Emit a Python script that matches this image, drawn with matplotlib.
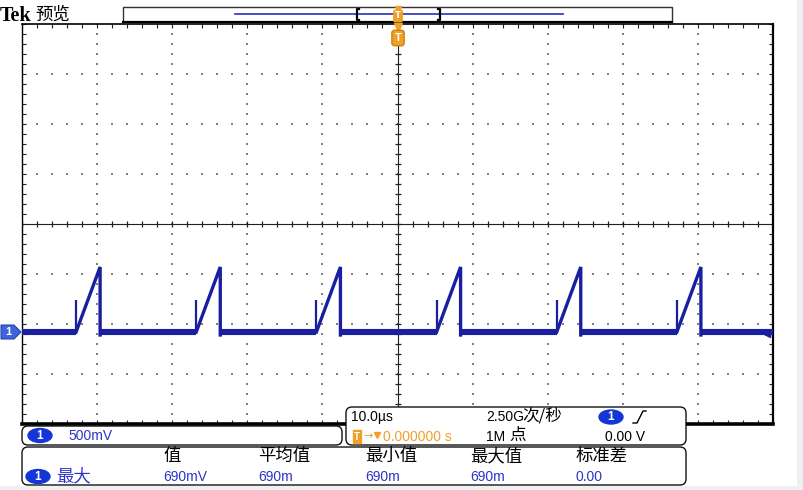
import numpy as np
import matplotlib
matplotlib.use("Agg")
import matplotlib.pyplot as plt
from matplotlib.patches import FancyBboxPatch, Ellipse, Polygon, Rectangle

# ---------------- data ----------------
ramp_start_us = [-42.8, -26.8, -10.8, 5.2, 21.2, 37.2]
peak_us = [-39.6, -23.6, -7.6, 8.4, 24.4, 40.4]
peak_v = [0.65, 0.65, 0.65, 0.65, 0.65, 0.65]
spike_v = [0.32, 0.32, 0.32, 0.32, 0.32, 0.32]
baseline_v = 0.0
time_window_us = [-50.0, 50.0]
volts_per_div = 0.5
us_per_div = 10.0
ground_offset_div = -2.16     # ground level relative to screen centre

meas_headers = ["值", "平均值", "最小值", "最大值", "标准差"]
meas_values = ["690mV", "690m", "690m", "690m", "0.00"]
meas_name = "最大"
ch_scale = "500mV"
timebase = "10.0µs"
sample_rate = "2.50G"
record_len = "1M"
trig_pos = "0.000000 s"
trig_level = "0.00 V"

# ---------------- figure ----------------
W, H = 804, 490
fig = plt.figure(figsize=(W / 100, H / 100), dpi=100, facecolor="white")

L, R, T, B = 22, 773, 24, 424
ax = fig.add_axes([L / W, 1 - B / H, (R - L) / W, (B - T) / H])
ax.set_facecolor("white")

center_v = baseline_v - ground_offset_div * volts_per_div
ylim = (center_v - 4 * volts_per_div, center_v + 4 * volts_per_div)
ax.set_xlim(*time_window_us)
ax.set_ylim(*ylim)

# dotted graticule
dot_c = "#808080"
xmaj = np.arange(time_window_us[0] + us_per_div, time_window_us[1], us_per_div)
ymaj = ylim[0] + volts_per_div * np.arange(1, 8)
xmin_ = np.arange(time_window_us[0], time_window_us[1] + 1e-9, us_per_div / 5)
ymin_ = ylim[0] + volts_per_div / 5 * np.arange(0, 41)
for xv in xmaj:
    if abs(xv) < 1e-9:
        continue
    ax.scatter(np.full(ymin_.size, xv), ymin_, s=1.0, c=dot_c, marker="s", linewidths=0, zorder=1)
for yv in ymaj:
    if abs(yv - center_v) < 1e-9:
        continue
    ax.scatter(xmin_, np.full(xmin_.size, yv), s=1.0, c=dot_c, marker="s", linewidths=0, zorder=1)

# centre cross with ticks
ax.axvline(0, color="#222222", lw=0.8, zorder=2)
ax.axhline(center_v, color="#222222", lw=0.8, zorder=2)
ax.plot(np.zeros(ymin_.size), ymin_, ls="none", marker="_", ms=4.5, mew=0.9, color="#222222", zorder=2)
ax.plot(xmin_, np.full(xmin_.size, center_v), ls="none", marker="|", ms=4.5, mew=0.9, color="#222222", zorder=2)

# border ticks
ax.set_xticks(xmaj)
ax.set_yticks(ymaj)
ax.set_xticks(xmin_, minor=True)
ax.set_yticks(ymin_, minor=True)
ax.tick_params(which="both", direction="in", length=3, width=0.8, color="#222222",
               top=True, right=True, labelbottom=False, labelleft=False)
for s, lw in (("left", 1.0), ("top", 1.2), ("right", 1.6), ("bottom", 2.6)):
    ax.spines[s].set_linewidth(lw)
    ax.spines[s].set_color("black")

# waveform
trace_c = "#1a1fa0"
# ramps and falling edges
for rs, pk, pv in zip(ramp_start_us, peak_us, peak_v):
    ax.plot([rs, pk, pk], [baseline_v, pv, baseline_v - 0.03], color=trace_c, lw=2.4,
            solid_joinstyle="miter", zorder=4)
# noisy baseline band between pulses
seg_starts = [time_window_us[0]] + list(peak_us)
seg_ends = list(ramp_start_us) + [time_window_us[1]]
ax.hlines(np.full(len(seg_starts), baseline_v), seg_starts, seg_ends, color=trace_c, lw=4.4, zorder=4)
ax.vlines(ramp_start_us, baseline_v, spike_v, color=trace_c, lw=1.6, zorder=4)

# ---------------- overlay (annotations, panels) ----------------
ov = fig.add_axes([0, 0, 1, 1])
ov.set_xlim(0, W)
ov.set_ylim(H, 0)
ov.axis("off")
ov.patch.set_alpha(0)
ov.set_zorder(5)

LAT = "Liberation Sans"
CJK = "Noto Sans CJK SC"
blue_txt = "#2a35c8"
orange = "#f0a028"
badge_blue = "#1436d8"

ov.add_patch(Rectangle((797, 0), 7, H, color="#eef0f3", lw=0))
ov.add_patch(Rectangle((0, 486), W, 4, color="#eef0f3", lw=0))

# header
ov.text(0, 16, "Tek", fontfamily="Liberation Serif", fontweight="bold", fontsize=14.5,
        va="center", ha="left", color="black")
ov.text(35, 15, "预览", fontfamily=CJK, fontsize=12.5, va="center", ha="left", color="black")

# record view box
ov.add_patch(Rectangle((123, 7), 549, 15, fc="white", ec="#333333", lw=1.0))
ov.plot([123, 672], [22, 22], color="black", lw=1.6)
ov.plot([235, 563], [14.5, 14.5], color="#2233bb", lw=1.2)
for bx, d in ((357, 1), (440, -1)):
    ov.plot([bx + 2 * d, bx, bx, bx + 2 * d], [9, 9, 20, 20], color="black", lw=1.6)
ov.plot([398], [9], marker="v", ms=5, color=orange, mec=orange)
ov.text(398, 16, "T", fontsize=6, color="white", ha="center", va="center", fontweight="bold",
        bbox=dict(boxstyle="round,pad=0.15", fc=orange, ec=orange))
ov.plot([398], [27], marker="v", ms=6, color=orange, mec=orange)
ov.text(398, 38, "T", fontsize=8, color="white", ha="center", va="center", fontweight="bold",
        fontfamily=LAT, bbox=dict(boxstyle="round,pad=0.25", fc=orange, ec="#d08010"))

# ground marker for channel 1
gy = 332
ov.add_patch(Polygon([(1, gy - 7), (14, gy - 7), (21, gy), (14, gy + 7), (1, gy + 7)],
                     closed=True, fc="#3d63dd", ec="#2a45b0", lw=0.8))
ov.text(8, gy, "1", color="white", fontsize=8, fontweight="bold", ha="center", va="center", fontfamily=LAT)
ov.plot([767], [gy + 2], marker="<", ms=4, color=trace_c)

# panels
def panel(x0, y0, x1, y1):
    ov.add_patch(FancyBboxPatch((x0 + 4, y0 + 4), x1 - x0 - 8, y1 - y0 - 8,
                                boxstyle="round,pad=4,rounding_size=6",
                                fc="white", ec="#111111", lw=1.0, zorder=3))

def ch_badge(cx, cy):
    ov.add_patch(Ellipse((cx, cy), 24, 14, fc=badge_blue, ec=badge_blue, zorder=4))
    ov.text(cx, cy, "1", color="white", fontsize=8.5, fontweight="bold", ha="center",
            va="center", fontfamily=LAT, zorder=5)

panel(22, 426, 342, 445)
panel(346, 407, 686, 445)
panel(22, 447, 686, 485)

ch_badge(40, 435.5)
ov.text(68, 435.5, ch_scale, fontfamily=LAT, fontsize=10, color=blue_txt, ha="left", va="center", zorder=5)

ov.text(351, 417, timebase, fontfamily=LAT, fontsize=10, color="black", ha="left", va="center", zorder=5)
ov.text(486, 417, sample_rate, fontfamily=LAT, fontsize=10, color="black", ha="left", va="center", zorder=5)
ov.text(522, 416, "次/秒", fontfamily=CJK, fontsize=12, color="black", ha="left", va="center", zorder=5)
ch_badge(611, 417)
ov.plot([633, 637, 643, 646], [423, 423, 411, 411], color="black", lw=1.0, zorder=5)

ov.text(357, 436.5, "T", fontsize=7, color="white", ha="center", va="center", fontweight="bold",
        fontfamily=LAT, zorder=5, bbox=dict(boxstyle="square,pad=0.15", fc=orange, ec=orange))
ov.text(363, 436.5, "→", fontsize=8, color=orange, ha="left", va="center", fontfamily="DejaVu Sans", zorder=5)
ov.plot([377], [435], marker="v", ms=5, color=orange, mec=orange, zorder=5)
ov.text(383, 436.5, trig_pos, fontfamily=LAT, fontsize=10, color=orange, ha="left", va="center", zorder=5)
ov.text(486, 436.5, record_len, fontfamily=LAT, fontsize=10, color="black", ha="left", va="center", zorder=5)
ov.text(509, 435.5, "点", fontfamily=CJK, fontsize=12, color="black", ha="left", va="center", zorder=5)
ov.text(605, 436.5, trig_level, fontfamily=LAT, fontsize=10, color="black", ha="left", va="center", zorder=5)

col_x = [163, 258, 365, 470, 576]
for cx, hdr, val in zip(col_x, meas_headers, meas_values):
    ov.text(cx, 456, hdr, fontfamily=CJK, fontsize=12.5, color="black", ha="left", va="center", zorder=5)
    ov.text(cx, 476.5, val, fontfamily=LAT, fontsize=10, color=blue_txt, ha="left", va="center", zorder=5)
ch_badge(38, 476.5)
ov.text(56, 476, meas_name, fontfamily=CJK, fontsize=12.5, color=blue_txt, ha="left", va="center", zorder=5)

fig.savefig("out.png", dpi=100, facecolor=fig.get_facecolor())
